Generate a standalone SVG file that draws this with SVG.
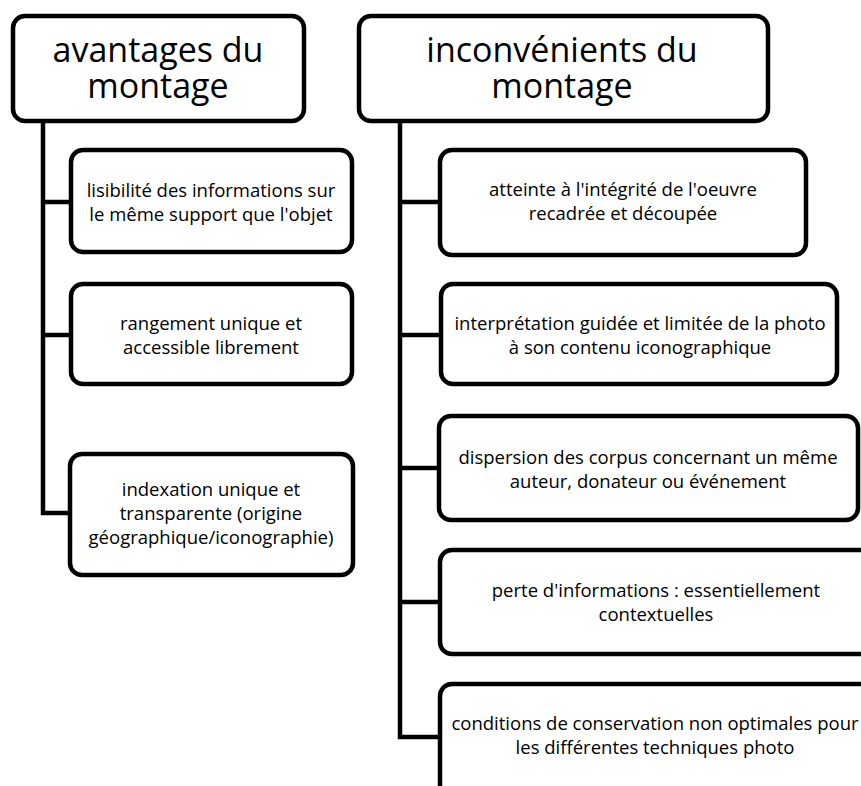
<svg xmlns="http://www.w3.org/2000/svg" width="861" height="786" viewBox="0 0 861 786">
<style>
.box{fill:#fff;stroke:#000;stroke-width:4.5}
.con{fill:none;stroke:#000;stroke-width:4.5;stroke-linejoin:miter}
.h{font-family:"Open Sans",Lato,"Liberation Sans",sans-serif;font-size:34px;fill:#000;text-anchor:middle}
.t{font-family:"Open Sans",Lato,"Liberation Sans",sans-serif;font-size:18.5px;fill:#000;text-anchor:middle}
</style>
<rect width="861" height="786" fill="#fff"/>
<g id="connectors">
<path class="con" d="M43 121 V513 H71 M43 202 H71 M43 335 H71"/>
<path class="con" d="M400 121 V737 H440 M400 202 H440 M400 335 H440 M400 468 H440 M400 602 H440"/>
</g>
<g id="h1">
<rect class="box" x="13" y="16" width="291" height="105" rx="12"/>
<text class="h" x="158" y="62">avantages du</text>
<text class="h" x="158" y="98">montage</text>
</g>
<g id="h2">
<rect class="box" x="359" y="16" width="409" height="105" rx="12"/>
<text class="h" x="562" y="62">inconvénients du</text>
<text class="h" x="562" y="98">montage</text>
</g>
<g id="a1">
<rect class="box" x="71" y="150" width="281" height="102" rx="12"/>
<text class="t" x="211" y="197">lisibilité des informations sur</text>
<text class="t" x="211" y="221">le même support que l'objet</text>
</g>
<g id="a2">
<rect class="box" x="71" y="284" width="281" height="100" rx="12"/>
<text class="t" x="211" y="330">rangement unique et</text>
<text class="t" x="211" y="354">accessible librement</text>
</g>
<g id="a3">
<rect class="box" x="70" y="454" width="283" height="121" rx="12"/>
<text class="t" x="211" y="496">indexation unique et</text>
<text class="t" x="211" y="520">transparente (origine</text>
<text class="t" x="211" y="544">géographique/iconographie)</text>
</g>
<g id="b1">
<rect class="box" x="440" y="150" width="366" height="105" rx="12"/>
<text class="t" x="623" y="196">atteinte à l'intégrité de l'oeuvre</text>
<text class="t" x="623" y="220">recadrée et découpée</text>
</g>
<g id="b2">
<rect class="box" x="441" y="284" width="396" height="100" rx="12"/>
<text class="t" x="640" y="330">interprétation guidée et limitée de la photo</text>
<text class="t" x="640" y="354">à son contenu iconographique</text>
</g>
<g id="b3">
<rect class="box" x="439" y="416" width="419" height="104" rx="12"/>
<text class="t" x="648" y="464">dispersion des corpus concernant un même</text>
<text class="t" x="648" y="488">auteur, donateur ou événement</text>
</g>
<g id="b4">
<rect class="box" x="440" y="550" width="432" height="104" rx="12"/>
<text class="t" x="656" y="597">perte d'informations : essentiellement</text>
<text class="t" x="656" y="621">contextuelles</text>
</g>
<g id="b5">
<rect class="box" x="440" y="684" width="432" height="120" rx="12"/>
<text class="t" x="655" y="730">conditions de conservation non optimales pour</text>
<text class="t" x="655" y="754">les différentes techniques photo</text>
</g>
</svg>
